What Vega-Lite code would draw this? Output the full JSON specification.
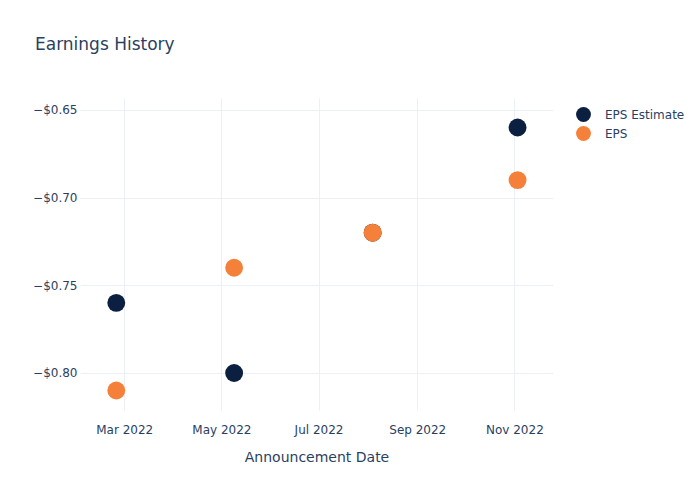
{
  "$schema": "https://vega.github.io/schema/vega-lite/v6.json",
  "autosize": {"type": "none"},
  "width": 473,
  "height": 312,
  "padding": {"left": 80, "top": 98, "right": 147, "bottom": 90},
  "background": "white",
  "config": {
    "font": "DejaVu Sans",
    "view": {"stroke": null},
    "axis": {"gridColor": "#ebf0f8", "gridWidth": 1, "domain": false, "ticks": false, "labelColor": "#2a3f5f", "titleColor": "#2a3f5f", "labelFontSize": 12, "titleFontSize": 14, "titleFontWeight": "normal"}
  },
  "title": {"text": "Earnings History", "anchor": "start", "frame": "group", "dx": -45, "offset": 44, "fontSize": 17, "fontWeight": "normal", "color": "#2a3f5f"},
  "data": {"values": [
    {"date": "2022-02-24", "series": "EPS Estimate", "value": -0.76},
    {"date": "2022-05-09", "series": "EPS Estimate", "value": -0.80},
    {"date": "2022-08-04", "series": "EPS Estimate", "value": -0.72},
    {"date": "2022-11-03", "series": "EPS Estimate", "value": -0.66},
    {"date": "2022-02-24", "series": "EPS", "value": -0.81},
    {"date": "2022-05-09", "series": "EPS", "value": -0.74},
    {"date": "2022-08-04", "series": "EPS", "value": -0.72},
    {"date": "2022-11-03", "series": "EPS", "value": -0.69}
  ]},
  "mark": {"type": "circle", "size": 320, "opacity": 1},
  "encoding": {
    "x": {"field": "date", "type": "temporal", "title": "Announcement Date",
      "scale": {"domain": ["2022-02-01T05:00:00", "2022-11-25T06:00:00"]},
      "axis": {"format": "%b %Y", "tickCount": {"interval": "month", "step": 2}, "labelPadding": 14, "titlePadding": 15, "labelFlush": false}},
    "y": {"field": "value", "type": "quantitative", "title": null,
      "scale": {"domain": [-0.8211, -0.6432], "nice": false, "zero": false},
      "axis": {"format": "$.2f", "values": [-0.8, -0.75, -0.7, -0.65], "labelPadding": 3}},
    "color": {"field": "series", "type": "nominal", "sort": ["EPS Estimate", "EPS"],
      "scale": {"domain": ["EPS Estimate", "EPS"], "range": ["#0b1f41", "#f5803a"]},
      "legend": {"title": null, "orient": "none", "legendX": 495, "legendY": 8, "symbolSize": 220, "labelFontSize": 12, "labelOffset": 13, "labelColor": "#2a3f5f", "rowPadding": 3, "symbolOpacity": 1}},
    "order": {"field": "series", "sort": "descending"}
  }
}
